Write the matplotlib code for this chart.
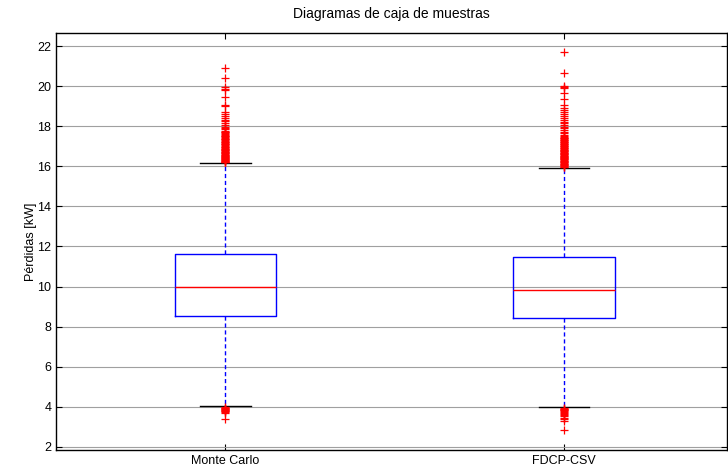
import matplotlib
matplotlib.use("Agg")
import matplotlib.pyplot as plt

plt.rcParams['font.family'] = ['Liberation Sans', 'DejaVu Sans']

# box statistics
labels = ['Monte Carlo', 'FDCP-CSV']
medians = [10.0, 9.85]
q1 = [8.55, 8.45]
q3 = [11.6, 11.45]
whis_lo = [4.02, 3.97]
whis_hi = [16.15, 15.9]

# outliers (estimated, the dense part is a solid band in the picture)
mc_fliers = [20.9, 20.4, 19.95, 19.88, 19.82, 19.45, 19.08, 19.02, 18.7, 18.6,
             18.5, 18.42, 18.33, 18.24, 18.15, 18.07, 17.98, 17.9, 17.84, 17.77,
             17.73, 17.69, 17.65, 17.61, 17.57, 17.53, 17.49, 17.45, 17.42, 17.38,
             17.34, 17.3, 17.27, 17.23, 17.19, 17.16, 17.12, 17.09, 17.05, 17.02,
             16.98, 16.95, 16.92, 16.88, 16.85, 16.82, 16.79, 16.76, 16.73, 16.7,
             16.67, 16.64, 16.61, 16.58, 16.55, 16.52, 16.5, 16.47, 16.44, 16.42,
             16.39, 16.37, 16.34, 16.32, 16.29, 16.27, 16.25, 16.23, 16.21, 16.19,
             3.98, 3.95, 3.93, 3.9, 3.88, 3.85, 3.82, 3.8, 3.77, 3.74, 3.71, 3.4]
fd_fliers = [21.7, 20.65, 20.02, 19.96, 19.92, 19.65, 19.35, 19.05, 18.92, 18.8,
             18.7, 18.6, 18.5, 18.41, 18.32, 18.23, 18.14, 18.05, 17.97, 17.89,
             17.81, 17.73, 17.65, 17.58, 17.5, 17.47, 17.43, 17.4, 17.36, 17.33,
             17.29, 17.26, 17.22, 17.19, 17.15, 17.12, 17.09, 17.05, 17.02, 16.99,
             16.96, 16.93, 16.89, 16.86, 16.83, 16.8, 16.77, 16.74, 16.71, 16.68,
             16.65, 16.62, 16.59, 16.56, 16.53, 16.5, 16.48, 16.45, 16.42, 16.39,
             16.36, 16.34, 16.31, 16.28, 16.25, 16.22, 16.19, 16.16, 16.13, 16.1,
             16.07, 16.04, 16.01, 15.98, 15.95,
             3.94, 3.91, 3.88, 3.85, 3.82, 3.79, 3.75, 3.71, 3.66, 3.6, 3.53,
             3.46, 3.38, 3.3, 2.85]
fliers = [mc_fliers, fd_fliers]

stats = []
for i in range(len(labels)):
    stats.append({'label': labels[i], 'med': medians[i], 'q1': q1[i], 'q3': q3[i],
                  'whislo': whis_lo[i], 'whishi': whis_hi[i], 'fliers': fliers[i]})

fig = plt.figure(figsize=(7.28, 4.72), dpi=100)
ax = fig.add_axes([0.077, 0.047, 0.921, 0.883])

ax.bxp(stats, positions=[1, 2], widths=0.3, capwidths=0.15,
       boxprops=dict(color='blue', linewidth=1.0),
       medianprops=dict(color='red', linewidth=1.0),
       whiskerprops=dict(color='blue', linewidth=1.0, linestyle=(0, (3, 2))),
       capprops=dict(color='black', linewidth=1.0),
       flierprops=dict(marker='+', markeredgecolor='red', markersize=5.5,
                       markeredgewidth=0.9, linestyle='none'))

ax.set_xlim(0.5, 2.48)
ax.set_ylim(1.85, 22.65)
ax.set_yticks(range(2, 23, 2))
ax.set_xticks([1, 2])
ax.set_xticklabels(labels)
ax.grid(axis='y', color='#a0a0a0', linewidth=0.8)
ax.set_axisbelow(True)
ax.tick_params(direction='in', top=True, right=True, labelsize=9, length=4)
for s in ax.spines.values():
    s.set_linewidth(1.0)

ax.set_ylabel('Pérdidas [kW]', fontsize=9, labelpad=0)
ax.set_title('Diagramas de caja de muestras', fontsize=10, pad=10.5)

fig.savefig('out.png', dpi=100)
